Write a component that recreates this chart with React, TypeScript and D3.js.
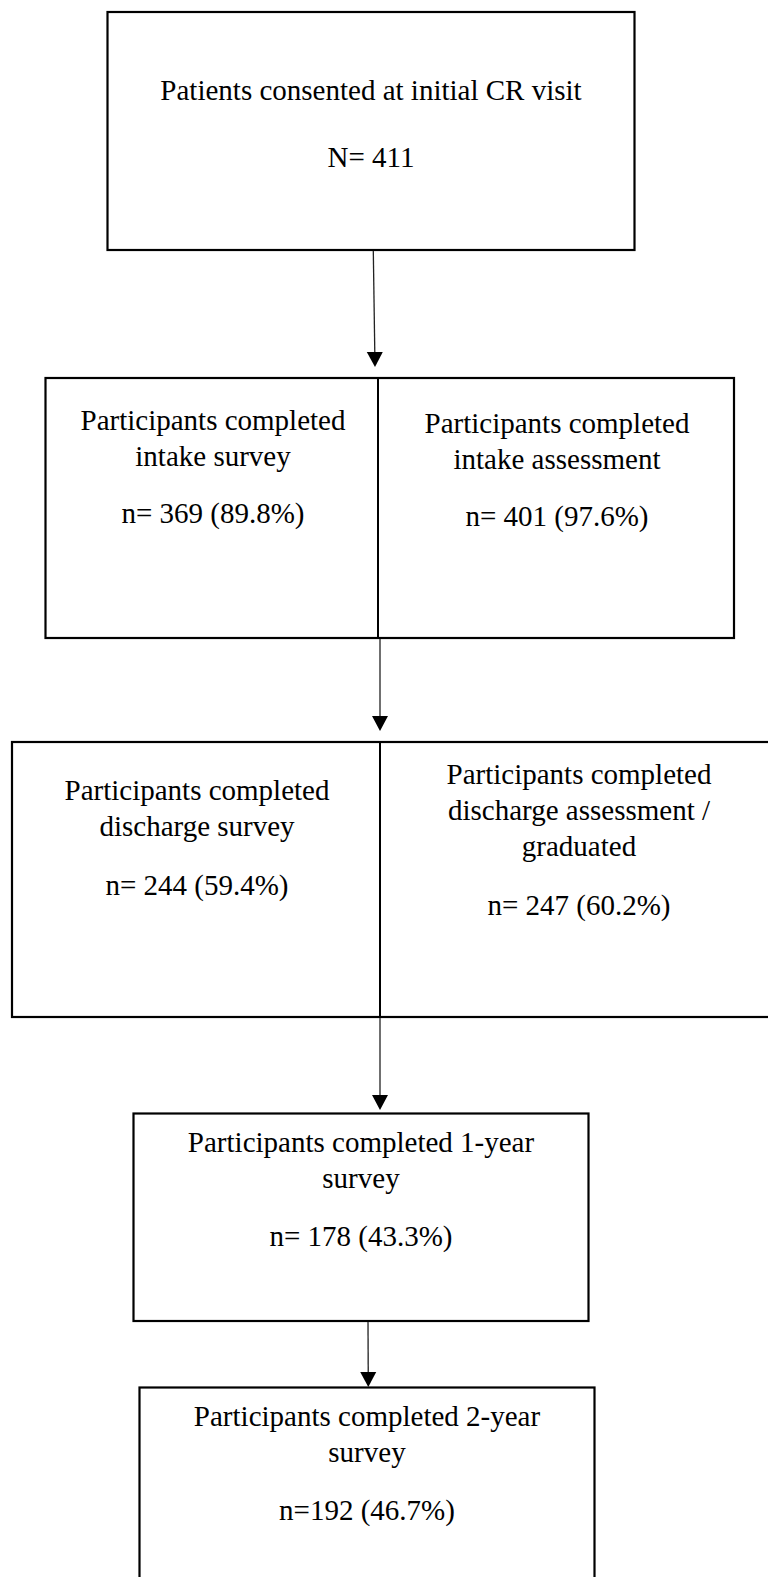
import * as React from "react";
import * as d3 from "d3";

// flow stages (one entry per cell)
const cellTitles: string[][] = [
  ["Patients consented at initial CR visit"],
  ["Participants completed", "intake survey"],
  ["Participants completed", "intake assessment"],
  ["Participants completed", "discharge survey"],
  ["Participants completed", "discharge assessment /", "graduated"],
  ["Participants completed 1-year", "survey"],
  ["Participants completed 2-year", "survey"],
];
const countPrefix = ["N= ", "n= ", "n= ", "n= ", "n= ", "n= ", "n="];
const counts = [411, 369, 401, 244, 247, 178, 192];
const percents: (number | null)[] = [null, 89.8, 97.6, 59.4, 60.2, 43.3, 46.7];

// layout of the boxes (x0, y0, x1, y1, optional divider x)
const frames = [
  { x0: 107.5, y0: 12, x1: 634.5, y1: 250, split: null as number | null },
  { x0: 45.5, y0: 378, x1: 734, y1: 638, split: 378 },
  { x0: 12, y0: 742, x1: 778, y1: 1017, split: 380 },
  { x0: 133.5, y0: 1113.5, x1: 588.5, y1: 1321, split: null },
  { x0: 139.5, y0: 1387.5, x1: 594.5, y1: 1600, split: null },
];

// text placement per cell: centre x, first baseline, count baseline
const cellText = [
  { cx: 371, ty: 100, ny: 167 },
  { cx: 213, ty: 430, ny: 523 },
  { cx: 557, ty: 432.5, ny: 526 },
  { cx: 197, ty: 800, ny: 895 },
  { cx: 579, ty: 784, ny: 915 },
  { cx: 361, ty: 1151.5, ny: 1246 },
  { cx: 367, ty: 1426, ny: 1520 },
];
const lineGap = 36;

// arrows between boxes
const arrows = [
  { x0: 373.3, y0: 251, x1: 375, y1: 367 },
  { x0: 380, y0: 639, x1: 380, y1: 731 },
  { x0: 380, y0: 1018, x1: 380, y1: 1110 },
  { x0: 368, y0: 1322, x1: 368.3, y1: 1387 },
];

const W = 768;
const H = 1577;
const font = "'Liberation Serif', 'Times New Roman', serif";

function label(i: number) {
  const p = percents[i];
  return countPrefix[i] + counts[i] + (p == null ? "" : ` (${p.toFixed(1)}%)`);
}

const App: React.FunctionComponent = () => {
  const headLen = 15;
  const headHalf = 8;
  const line = d3.line<[number, number]>();

  return (
    <svg
      width={W}
      height={H}
      viewBox={`0 0 ${W} ${H}`}
      style={{ position: "absolute", left: 0, top: 0, display: "block", background: "#fff" }}
    >
      {frames.map((f, i) => (
        <g key={"f" + i}>
          <rect
            x={f.x0}
            y={f.y0}
            width={f.x1 - f.x0}
            height={f.y1 - f.y0}
            fill="none"
            stroke="#000"
            strokeWidth={2.2}
          />
          {f.split != null && (
            <line x1={f.split} x2={f.split} y1={f.y0} y2={f.y1} stroke="#000" strokeWidth={2} />
          )}
        </g>
      ))}

      {arrows.map((a, i) => {
        // shaft stops at the base of the head, head is a filled triangle
        const ang = Math.atan2(a.y1 - a.y0, a.x1 - a.x0);
        const bx = a.x1 - headLen * Math.cos(ang);
        const by = a.y1 - headLen * Math.sin(ang);
        const nx = -Math.sin(ang) * headHalf;
        const ny = Math.cos(ang) * headHalf;
        return (
          <g key={"a" + i}>
            <path
              d={line([[a.x0, a.y0], [bx, by]]) || ""}
              stroke="#222"
              strokeWidth={1.3}
              fill="none"
            />
            <path
              d={(line([[a.x1, a.y1], [bx + nx, by + ny], [bx - nx, by - ny]]) || "") + "Z"}
              fill="#000"
            />
          </g>
        );
      })}

      {cellTitles.map((lines, i) => {
        const t = cellText[i];
        return (
          <g key={"t" + i} fontFamily={font} fontSize={29} fill="#000" textAnchor="middle">
            {lines.map((s, j) => (
              <text key={j} x={t.cx} y={t.ty + j * lineGap}>
                {s}
              </text>
            ))}
            <text x={t.cx} y={t.ny}>
              {label(i)}
            </text>
          </g>
        );
      })}
    </svg>
  );
};

export default App;
